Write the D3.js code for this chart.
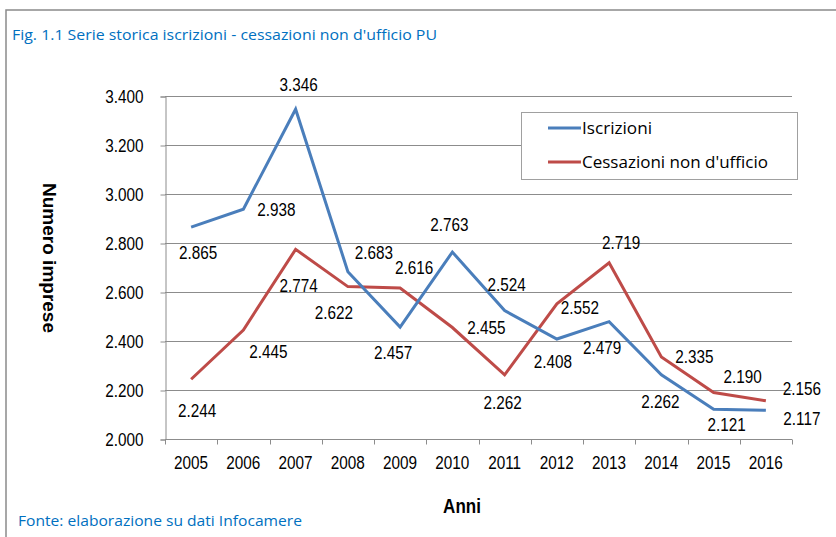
<!DOCTYPE html>
<html>
<head>
<meta charset="utf-8">
<script src="https://cdn.jsdelivr.net/npm/d3@7/dist/d3.min.js"></script>
<style>
  body { margin: 0; background: #fff; }
  svg { display: block; }
</style>
</head>
<body>
<svg id="chart"></svg>
<script>
;(() => {

    const years = ['2005','2006','2007','2008','2009','2010','2011','2012','2013','2014','2015','2016'];
    const iscrizioni = [2865, 2938, 3346, 2683, 2457, 2763, 2524, 2408, 2479, 2262, 2121, 2117];
    const cessazioni = [2244, 2445, 2774, 2622, 2616, 2455, 2262, 2552, 2719, 2335, 2190, 2156];
    const yTicks = [2000, 2200, 2400, 2600, 2800, 3000, 3200, 3400];
    const seriesNames = ['Iscrizioni', "Cessazioni non d'ufficio"];

    // where excel dropped each data label, relative to its point [dx, dy]
    const iscrLabelShift = [[7,26],[33,1],[3,-25],[26,-19],[-7,26],[-3,-27],[2,-26],[-4,23],[-7,26],[-1,27],[13,15],[36,8]];
    const cessLabelShift = [[6,31],[25,22],[3,36],[-14,26],[14,-20],[34,0],[-2,28],[23,4],[12,-20],[33,0],[29,-16],[36,-12]];

    const width = 836;
    const height = 537;
    const blue = '#4a7ebb';
    const red = '#be4b48';
    const textBlue = '#0070c0';
    const gridColor = '#8c8c8c';
    const arial = '"Liberation Sans", Arial, sans-serif';
    const calibri = '"Open Sans", "Noto Sans", sans-serif';
    // the source picture is squeezed sideways, so glyphs look narrow
    const squeeze = 0.85;

    const fmt = (d) => d3.format(',')(d).replace(',', '.');

    const svg = d3.select('#chart')
        .attr('width', width)
        .attr('height', height);

    /**
      * narrowing text horizontally like the original
      */
    function narrow(sel) {
        sel.each(function () {
            const len = this.getComputedTextLength();
            d3.select(this)
                .attr('textLength', len * squeeze)
                .attr('lengthAdjust', 'spacingAndGlyphs');
        });
    }

    // outer frame (right/bottom run off the picture)
    svg.append('rect')
        .attr('x', 6).attr('y', 10)
        .attr('width', 840).attr('height', 540)
        .attr('fill', 'none')
        .attr('stroke', '#8a8a8a')
        .attr('stroke-width', 1.5);

    svg.append('text')
        .attr('x', 12).attr('y', 40)
        .attr('font-family', calibri)
        .attr('font-size', 14.5)
        .attr('fill', textBlue)
        .attr('textLength', 425)
        .attr('lengthAdjust', 'spacingAndGlyphs')
        .text("Fig. 1.1 Serie storica iscrizioni - cessazioni non d'ufficio PU");

    svg.append('text')
        .attr('x', 18).attr('y', 526)
        .attr('font-family', calibri)
        .attr('font-size', 14.5)
        .attr('fill', textBlue)
        .attr('textLength', 284)
        .attr('lengthAdjust', 'spacingAndGlyphs')
        .text('Fonte: elaborazione su dati Infocamere');

    const x = d3.scaleBand().domain(years).range([165, 792]).padding(0);
    const y = d3.scaleLinear().domain([2000, 3400]).range([439, 96]);
    const cx = (d) => x(d) + x.bandwidth() / 2;

    // gridlines
    svg.append('g')
        .selectAll('line')
        .data(yTicks.slice(1))
        .enter()
        .append('line')
        .attr('x1', 165).attr('x2', 792)
        .attr('y1', (d) => y(d) + 0.5).attr('y2', (d) => y(d) + 0.5)
        .attr('stroke', gridColor)
        .attr('stroke-width', 1);

    // y axis
    const yAxis = svg.append('g')
        .attr('transform', 'translate(165.5,0.5)')
        .call(d3.axisLeft(y).tickValues(yTicks).tickSize(5).tickPadding(17).tickFormat(fmt));
    yAxis.select('.domain').attr('stroke', gridColor);
    yAxis.selectAll('.tick line').attr('stroke', gridColor);
    yAxis.selectAll('text')
        .attr('font-family', arial)
        .attr('font-size', 18)
        .attr('fill', '#000')
        .attr('text-anchor', 'end')
        .call(narrow);

    // x axis, ticks between categories like excel
    const xAxisG = svg.append('g').attr('transform', 'translate(0,439.5)');
    xAxisG.append('line')
        .attr('x1', 165).attr('x2', 792)
        .attr('stroke', gridColor);
    xAxisG.selectAll('.tk')
        .data(years.concat(['end']))
        .enter()
        .append('line')
        .attr('class', 'tk')
        .attr('x1', (d, i) => Math.round(165 + i * x.bandwidth()) + 0.5)
        .attr('x2', (d, i) => Math.round(165 + i * x.bandwidth()) + 0.5)
        .attr('y1', 0).attr('y2', 5)
        .attr('stroke', gridColor);
    xAxisG.selectAll('.lbl')
        .data(years)
        .enter()
        .append('text')
        .attr('class', 'lbl')
        .attr('x', cx)
        .attr('y', 29)
        .attr('text-anchor', 'middle')
        .attr('font-family', arial)
        .attr('font-size', 18)
        .text((d) => d)
        .call(narrow);

    // axis titles
    svg.append('text')
        .attr('transform', 'translate(43,258) rotate(90)')
        .attr('text-anchor', 'middle')
        .attr('font-family', arial)
        .attr('font-size', 19)
        .attr('font-weight', 'bold')
        .text('Numero imprese');

    svg.append('text')
        .attr('x', 462).attr('y', 513)
        .attr('text-anchor', 'middle')
        .attr('font-family', arial)
        .attr('font-size', 20)
        .attr('font-weight', 'bold')
        .text('Anni')
        .call(narrow);

    const line = d3.line()
        .x((d, i) => cx(years[i]))
        .y((d) => y(d));

    function drawSeries(values, color, shifts) {
        svg.append('path')
            .datum(values)
            .attr('d', line)
            .attr('fill', 'none')
            .attr('stroke', color)
            .attr('stroke-width', 3)
            .attr('stroke-linejoin', 'miter');

        svg.append('g')
            .selectAll('text')
            .data(values)
            .enter()
            .append('text')
            .attr('x', (d, i) => cx(years[i]) + shifts[i][0])
            .attr('y', (d, i) => y(d) + shifts[i][1])
            .attr('dy', '0.35em')
            .attr('text-anchor', 'middle')
            .attr('font-family', arial)
            .attr('font-size', 18)
            .text(fmt)
            .call(narrow);
    }

    drawSeries(cessazioni, red, cessLabelShift);
    drawSeries(iscrizioni, blue, iscrLabelShift);

    // legend
    const legend = svg.append('g');
    legend.append('rect')
        .attr('x', 521.5).attr('y', 112.5)
        .attr('width', 276).attr('height', 67)
        .attr('fill', '#fff')
        .attr('stroke', '#a0a0a0');
    const legendRows = [[seriesNames[0], blue, 128, 70], [seriesNames[1], red, 162, 186]];
    legendRows.forEach(([name, color, ly, tw]) => {
        legend.append('line')
            .attr('x1', 548).attr('x2', 581)
            .attr('y1', ly).attr('y2', ly)
            .attr('stroke', color)
            .attr('stroke-width', 3);
        legend.append('text')
            .attr('x', 582).attr('y', ly + 6)
            .attr('font-family', calibri)
            .attr('font-size', 16)
            .attr('textLength', tw)
            .attr('lengthAdjust', 'spacingAndGlyphs')
            .text(name);
    });

})();
</script>
</body>
</html>
